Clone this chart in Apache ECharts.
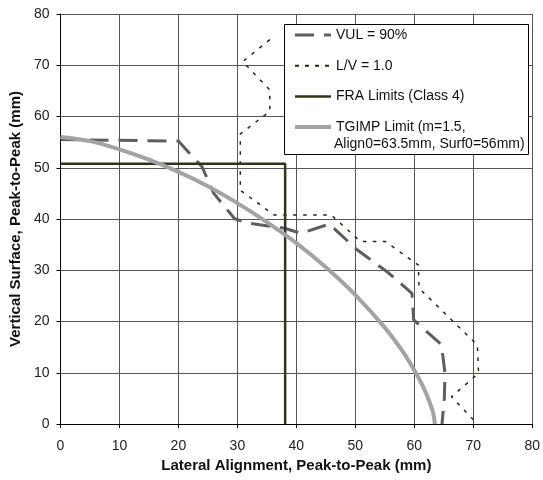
<!DOCTYPE html>
<html>
<head>
<meta charset="utf-8">
<script src="https://cdn.jsdelivr.net/npm/echarts@6/dist/echarts.min.js"></script>
<style>
  html, body { margin: 0; padding: 0; background: #fff; }
  #chart { width: 543px; height: 480px; }
</style>
</head>
<body>
<div id="chart"></div>
<script>
// values, [lateral, vertical] in mm
let vulData = [
    [0, 55.5], [20, 55.2], [24, 50.2], [26, 45], [29.5, 40.1], [31.3, 39.3],
    [38, 38.2], [40.8, 37.2], [45.6, 39], [50.3, 34], [55.5, 29.6],
    [59.6, 25.5], [59.9, 20.3], [64.6, 15.5], [65.2, 10], [65.1, 5], [64.7, 0]
];
let lvData = [
    [35.5, 75], [30.9, 70.7], [35.5, 65.2], [35.5, 61], [30.5, 56.6],
    [30.5, 45.6], [36.2, 40.8], [45.9, 40.8], [50.9, 35.6], [55.1, 35.6],
    [60.7, 31], [60.8, 26.5], [70.7, 15.4], [70.9, 9.9], [66.3, 5.3], [70.7, 0]
];
let fraData = [[0, 50.8], [38.1, 50.8], [38.1, 0]];
let tgimpData = [
    [0, 56], [5, 55.2], [10, 53.6], [15, 51.6], [20, 49.2], [25, 46.4],
    [30, 43.1], [35, 39.4], [40, 35.3], [45, 30.6], [50, 25.2], [55, 18.8],
    [58, 14.2], [60, 10.5], [61, 8.4], [62, 6], [62.8, 3.6], [63.2, 2.2], [63.5, 0]
];
let seriesNames = ['VUL = 90%', 'L/V = 1.0', 'FRA Limits (Class 4)', 'TGIMP Limit (m=1.5,'];
let tgimpSecondLine = 'Align0=63.5mm, Surf0=56mm)';

let myChart = echarts.init(document.getElementById('chart'));

let font = 'Liberation Sans, Arial, sans-serif';

let lineStyles = [
    { color: '#5e5e5e', width: 3, type: [19, 10] },
    { color: '#262610', width: 1.5, type: [3.5, 6.5] },
    { color: '#33331a', width: 2.5, type: 'solid' },
    { color: '#a3a3a3', width: 4, type: 'solid' }
];

// legend samples, the dotted one a bit bolder like in the picture
let legendLineStyles = [
    lineStyles[0],
    { color: '#262610', width: 2, type: [4, 6] },
    lineStyles[2],
    lineStyles[3]
];

let option = {
    animation: false,
    textStyle: { fontFamily: font },
    grid: { left: 60, right: 6, top: 14, bottom: 56 },
    legend: {
        data: seriesNames.map(function (n, i) {
            return { name: n, lineStyle: legendLineStyles[i] };
        }),
        orient: 'vertical',
        left: 284,
        top: 24,
        padding: [4, 10, 4, 9],
        itemGap: 16.7,
        itemWidth: 36,
        itemHeight: 14,
        itemStyle: { opacity: 0 },
        textStyle: { fontSize: 14, lineHeight: 14, color: '#111', fontFamily: font },
        z: 8
    },
    graphic: [
        {   // legend frame
            type: 'rect',
            left: 284,
            top: 24,
            z: 6,
            shape: { width: 244, height: 130 },
            style: { fill: '#fff', stroke: '#000', lineWidth: 1 }
        },
        {
            type: 'text',
            left: 334,
            top: 137,
            z: 9,
            style: { text: tgimpSecondLine, fontSize: 14, fill: '#111', fontFamily: font }
        }
    ],
    xAxis: {
        type: 'value',
        min: 0, max: 80, interval: 10,
        name: 'Lateral Alignment, Peak-to-Peak (mm)',
        nameLocation: 'middle',
        nameGap: 34,
        nameTextStyle: { fontSize: 15, fontWeight: 'bold', color: '#111', fontFamily: font },
        axisLine: { onZero: false, lineStyle: { color: '#000', width: 1 } },
        axisTick: { show: true, length: 4, lineStyle: { color: '#000' } },
        axisLabel: { fontSize: 14, color: '#222', margin: 15 },
        splitLine: { show: true, lineStyle: { color: '#555', width: 1 } }
    },
    yAxis: {
        type: 'value',
        min: 0, max: 80, interval: 10,
        name: 'Vertical Surface, Peak-to-Peak (mm)',
        nameLocation: 'middle',
        nameGap: 37,
        nameTextStyle: { fontSize: 15, fontWeight: 'bold', color: '#111', fontFamily: font },
        axisLine: { show: true, onZero: false, lineStyle: { color: '#000', width: 1 } },
        axisTick: { show: true, length: 4, lineStyle: { color: '#000' } },
        axisLabel: { fontSize: 14, color: '#222', margin: 11 },
        splitLine: { show: true, lineStyle: { color: '#555', width: 1 } }
    },
    series: [
        {
            name: seriesNames[0],
            type: 'line',
            data: vulData,
            symbol: 'none',
            lineStyle: lineStyles[0],
            itemStyle: { color: lineStyles[0].color },
            z: 3
        },
        {
            name: seriesNames[1],
            type: 'line',
            data: lvData,
            symbol: 'none',
            lineStyle: lineStyles[1],
            itemStyle: { color: lineStyles[1].color },
            z: 3
        },
        {
            name: seriesNames[2],
            type: 'line',
            data: fraData,
            symbol: 'none',
            lineStyle: lineStyles[2],
            itemStyle: { color: lineStyles[2].color },
            z: 4
        },
        {
            name: seriesNames[3],
            type: 'line',
            data: tgimpData,
            symbol: 'none',
            smooth: 0.3,
            lineStyle: lineStyles[3],
            itemStyle: { color: lineStyles[3].color },
            z: 5
        }
    ]
};

myChart.setOption(option);
</script>
</body>
</html>
